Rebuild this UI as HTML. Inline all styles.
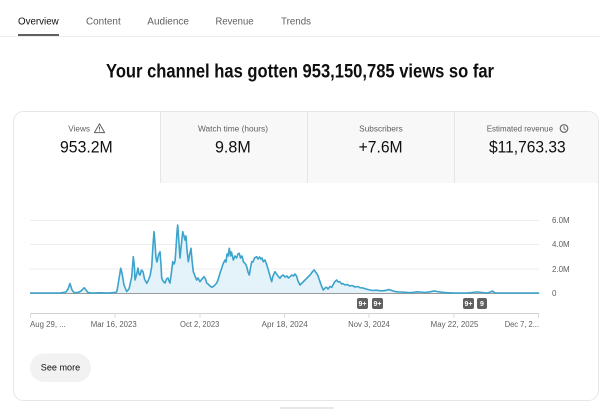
<!DOCTYPE html>
<html><head><meta charset="utf-8"><style>
html,body{margin:0;padding:0;background:#fff;width:600px;height:409px;overflow:hidden}
svg{display:block}
text{font-family:"Liberation Sans",Arial,sans-serif}
</style></head><body>
<svg width="600" height="409" viewBox="0 0 600 409" xmlns="http://www.w3.org/2000/svg">
<!-- header tabs -->
<text x="18" y="24.3" font-size="10" fill="#0f0f0f" textLength="40.7" lengthAdjust="spacingAndGlyphs">Overview</text>
<text x="86" y="24.3" font-size="10" fill="#606060" textLength="34.7" lengthAdjust="spacingAndGlyphs">Content</text>
<text x="147.3" y="24.3" font-size="10" fill="#606060" textLength="41.7" lengthAdjust="spacingAndGlyphs">Audience</text>
<text x="215.5" y="24.3" font-size="10" fill="#606060" textLength="38" lengthAdjust="spacingAndGlyphs">Revenue</text>
<text x="281" y="24.3" font-size="10" fill="#606060" textLength="30" lengthAdjust="spacingAndGlyphs">Trends</text>
<rect x="0" y="36" width="600" height="1" fill="#ececec"/>
<rect x="18" y="34" width="41" height="2" fill="#5f5f5f"/>

<!-- title -->
<text x="300" y="77.5" font-size="19.5" font-weight="bold" fill="#0f0f0f" text-anchor="middle" textLength="388" lengthAdjust="spacingAndGlyphs">Your channel has gotten 953,150,785 views so far</text>

<!-- card -->
<rect x="13.5" y="111.5" width="585" height="289" rx="10" fill="#fff" stroke="#e6e6e6"/>
<path d="M160.5,112 H588.5 A10,10 0 0 1 598,122 V183 H160.5 Z" fill="#f8f8f8"/>
<line x1="160.5" y1="112" x2="160.5" y2="183" stroke="#e5e5e5"/>
<line x1="307.5" y1="112" x2="307.5" y2="183" stroke="#e5e5e5"/>
<line x1="454.5" y1="112" x2="454.5" y2="183" stroke="#e5e5e5"/>

<!-- metric labels -->
<text x="68.3" y="131.5" font-size="8" fill="#606060" textLength="21.7" lengthAdjust="spacingAndGlyphs">Views</text>
<path d="M99.5,123.8 L104.6,132.6 L94.4,132.6 Z" fill="none" stroke="#606060" stroke-width="1" stroke-linejoin="round"/>
<line x1="99.5" y1="126.8" x2="99.5" y2="129.6" stroke="#606060" stroke-width="1"/>
<rect x="99" y="130.4" width="1" height="1" fill="#606060"/>
<text x="233" y="131.5" font-size="8" fill="#606060" text-anchor="middle" textLength="70" lengthAdjust="spacingAndGlyphs">Watch time (hours)</text>
<text x="381" y="131.5" font-size="8" fill="#606060" text-anchor="middle" textLength="43.6" lengthAdjust="spacingAndGlyphs">Subscribers</text>
<text x="486.7" y="131.5" font-size="8" fill="#606060" textLength="66.3" lengthAdjust="spacingAndGlyphs">Estimated revenue</text>
<circle cx="564" cy="128.5" r="3.8" fill="none" stroke="#606060" stroke-width="1.1"/>
<path d="M564,126.3 V128.7 L565.7,129.9" fill="none" stroke="#606060" stroke-width="0.9"/>

<!-- metric values -->
<text x="60" y="152.7" font-size="16.5" fill="#0f0f0f" textLength="52.7" lengthAdjust="spacingAndGlyphs">953.2M</text>
<text x="215" y="152.7" font-size="16.5" fill="#0f0f0f" textLength="35.7" lengthAdjust="spacingAndGlyphs">9.8M</text>
<text x="358.6" y="152.7" font-size="16.5" fill="#0f0f0f" textLength="44" lengthAdjust="spacingAndGlyphs">+7.6M</text>
<text x="489" y="152.7" font-size="16.5" fill="#0f0f0f" textLength="76.7" lengthAdjust="spacingAndGlyphs">$11,763.33</text>

<!-- gridlines -->
<line x1="30" y1="220.5" x2="539" y2="220.5" stroke="#eeeeee"/>
<line x1="30" y1="244.5" x2="539" y2="244.5" stroke="#eeeeee"/>
<line x1="30" y1="269" x2="539" y2="269" stroke="#eeeeee"/>

<!-- area -->
<path fill="#e4f2f9" d="M30,293 L30,293 60,293 63,292.5 66,292 68,289 70,283.5 72,290 74,292.5 78,292.5 81,291 84.3,287.7 86,290 88,292.5 92,293 100,292.8 108,293 114,292.5 116.7,292 118,285 120.7,268.3 122,273 124,285 126.7,291.5 129,289 131.7,277 133.3,256.7 134.5,268 135,280 136.5,275 138,268 139,274 140,275 141.5,270 143,271.7 144.5,279 146.7,283.3 148,281 150,276 151.7,266.7 153,245 154,231.7 155,243 156,258 157,262 158.5,255 160,251.7 161,265 161.7,278 163,281 165,283 166.5,279 168,278 169,281 170,283 171.5,272 172.7,261.7 174,264 175,261.7 176,248 177,232 177.7,225 178.5,236 180,258 181,248 182.7,231.7 184,236 185,240 186,236 187,250 188.3,261.7 189.5,255 191,248.3 192,260 193.3,271.7 195,276 196.7,280 198,278 200,281.7 202,279 204,276.7 205.5,279 206.7,283 208,284 210,286 211.7,287.3 214,286 216.7,283 218,280 220,273 221.7,268.3 223,264 225,260 226,262 227,254 228,256 229.3,248.3 230.5,256 231.5,252 233.3,260 235,256 236.5,258 238,254 239.3,253.3 240.5,258 242,256 243.5,262 245,263.3 246.5,266 248,272 249.3,275 250.5,268 251.7,261.7 253,262 254.5,258 256.7,256.7 258,259 259.5,257 261,259 262,258 263.3,261.7 265,260 266.5,264 268.3,270 270,276 271.7,281.7 273,276 275,271.7 276.5,274 278,276 280,278.3 281.5,276 283.3,275 285,277 287,276 288.5,278 290,276.7 292,275 293.5,276 295,274 296.5,276 298,281 300,285 302,283 304,281 306.7,278.3 308,277 310,275 311.5,273 313,271 314.3,270 315.5,272 316.7,273.3 318,276 320,281.7 321.5,286 323.3,290 325,288 326.7,287.3 328,289 330,286.5 331.7,287.3 333,285 334.5,282 336.7,280 338,282 339.5,281.5 341.7,284 343,283.5 345,285 347,284.5 350,286 352,285.5 355,287 358,286.5 360,287.7 363,288 366,289 370,290 373,290.5 376,290.2 380,290.7 383,290.8 386,290.3 389,289.5 391,290.2 394,291.3 397,291.8 400,292 405,292.3 410,292.7 414,292.3 417,291.8 420,292 425,292.5 430,291.8 433,291.2 435,291 437,291.5 441,292.2 446.7,292.7 455,293 466.7,293 472,292.5 476,292 478.3,292 482,292.5 486.7,293 489,292.6 492.7,291 494,292.5 496.7,293 539.3,293 Z"/>
<!-- baseline -->
<line x1="30" y1="293.5" x2="539" y2="293.5" stroke="#9a9a9a"/>
<!-- line -->
<polyline fill="none" stroke="#3ba3cc" stroke-width="1.6" stroke-linejoin="round" points="30,293 60,293 63,292.5 66,292 68,289 70,283.5 72,290 74,292.5 78,292.5 81,291 84.3,287.7 86,290 88,292.5 92,293 100,292.8 108,293 114,292.5 116.7,292 118,285 120.7,268.3 122,273 124,285 126.7,291.5 129,289 131.7,277 133.3,256.7 134.5,268 135,280 136.5,275 138,268 139,274 140,275 141.5,270 143,271.7 144.5,279 146.7,283.3 148,281 150,276 151.7,266.7 153,245 154,231.7 155,243 156,258 157,262 158.5,255 160,251.7 161,265 161.7,278 163,281 165,283 166.5,279 168,278 169,281 170,283 171.5,272 172.7,261.7 174,264 175,261.7 176,248 177,232 177.7,225 178.5,236 180,258 181,248 182.7,231.7 184,236 185,240 186,236 187,250 188.3,261.7 189.5,255 191,248.3 192,260 193.3,271.7 195,276 196.7,280 198,278 200,281.7 202,279 204,276.7 205.5,279 206.7,283 208,284 210,286 211.7,287.3 214,286 216.7,283 218,280 220,273 221.7,268.3 223,264 225,260 226,262 227,254 228,256 229.3,248.3 230.5,256 231.5,252 233.3,260 235,256 236.5,258 238,254 239.3,253.3 240.5,258 242,256 243.5,262 245,263.3 246.5,266 248,272 249.3,275 250.5,268 251.7,261.7 253,262 254.5,258 256.7,256.7 258,259 259.5,257 261,259 262,258 263.3,261.7 265,260 266.5,264 268.3,270 270,276 271.7,281.7 273,276 275,271.7 276.5,274 278,276 280,278.3 281.5,276 283.3,275 285,277 287,276 288.5,278 290,276.7 292,275 293.5,276 295,274 296.5,276 298,281 300,285 302,283 304,281 306.7,278.3 308,277 310,275 311.5,273 313,271 314.3,270 315.5,272 316.7,273.3 318,276 320,281.7 321.5,286 323.3,290 325,288 326.7,287.3 328,289 330,286.5 331.7,287.3 333,285 334.5,282 336.7,280 338,282 339.5,281.5 341.7,284 343,283.5 345,285 347,284.5 350,286 352,285.5 355,287 358,286.5 360,287.7 363,288 366,289 370,290 373,290.5 376,290.2 380,290.7 383,290.8 386,290.3 389,289.5 391,290.2 394,291.3 397,291.8 400,292 405,292.3 410,292.7 414,292.3 417,291.8 420,292 425,292.5 430,291.8 433,291.2 435,291 437,291.5 441,292.2 446.7,292.7 455,293 466.7,293 472,292.5 476,292 478.3,292 482,292.5 486.7,293 489,292.6 492.7,291 494,292.5 496.7,293 539.3,293"/>

<!-- y labels -->
<text x="552" y="223" font-size="8" fill="#606060" textLength="17.7" lengthAdjust="spacingAndGlyphs">6.0M</text>
<text x="552" y="247.2" font-size="8" fill="#606060" textLength="17.7" lengthAdjust="spacingAndGlyphs">4.0M</text>
<text x="552" y="272" font-size="8" fill="#606060" textLength="17.7" lengthAdjust="spacingAndGlyphs">2.0M</text>
<text x="552" y="296.2" font-size="8" fill="#606060">0</text>

<!-- badges -->
<rect x="357" y="298" width="11" height="11" rx="2" fill="#606060"/>
<text x="362.5" y="306" font-size="7" font-weight="bold" fill="#fff" text-anchor="middle">9+</text>
<rect x="372" y="298" width="11" height="11" rx="2" fill="#606060"/>
<text x="377.5" y="306" font-size="7" font-weight="bold" fill="#fff" text-anchor="middle">9+</text>
<rect x="463" y="298" width="11" height="11" rx="2" fill="#606060"/>
<text x="468.5" y="306" font-size="7" font-weight="bold" fill="#fff" text-anchor="middle">9+</text>
<rect x="477" y="298" width="10" height="11" rx="2" fill="#606060"/>
<text x="482" y="306" font-size="7" font-weight="bold" fill="#fff" text-anchor="middle">9</text>

<!-- x axis -->
<line x1="30" y1="313.5" x2="539" y2="313.5" stroke="#d0d0d0"/>
<g stroke="#dddddd">
<line x1="30.5" y1="313" x2="30.5" y2="318"/>
<line x1="115" y1="313" x2="115" y2="318"/>
<line x1="200" y1="313" x2="200" y2="318"/>
<line x1="284.5" y1="313" x2="284.5" y2="318"/>
<line x1="369" y1="313" x2="369" y2="318"/>
<line x1="454" y1="313" x2="454" y2="318"/>
<line x1="538.5" y1="313" x2="538.5" y2="318"/>
</g>
<g font-size="8" fill="#606060">
<text x="30" y="327" textLength="35.7" lengthAdjust="spacingAndGlyphs">Aug 29, ...</text>
<text x="113.7" y="327" text-anchor="middle" textLength="46" lengthAdjust="spacingAndGlyphs">Mar 16, 2023</text>
<text x="199.7" y="327" text-anchor="middle" textLength="39.3" lengthAdjust="spacingAndGlyphs">Oct 2, 2023</text>
<text x="284.7" y="327" text-anchor="middle" textLength="46" lengthAdjust="spacingAndGlyphs">Apr 18, 2024</text>
<text x="369" y="327" text-anchor="middle" textLength="41.7" lengthAdjust="spacingAndGlyphs">Nov 3, 2024</text>
<text x="454.5" y="327" text-anchor="middle" textLength="47.7" lengthAdjust="spacingAndGlyphs">May 22, 2025</text>
<text x="504.7" y="327" textLength="34.3" lengthAdjust="spacingAndGlyphs">Dec 7, 2...</text>
</g>

<!-- see more -->
<rect x="30" y="353.5" width="61" height="28.5" rx="14.25" fill="#f2f2f2"/>
<text x="60.5" y="370.6" font-size="9" fill="#0f0f0f" text-anchor="middle" textLength="39.4" lengthAdjust="spacingAndGlyphs">See more</text>

<rect x="280" y="407" width="54" height="2" fill="#e8e8e8"/>
</svg>
</body></html>
